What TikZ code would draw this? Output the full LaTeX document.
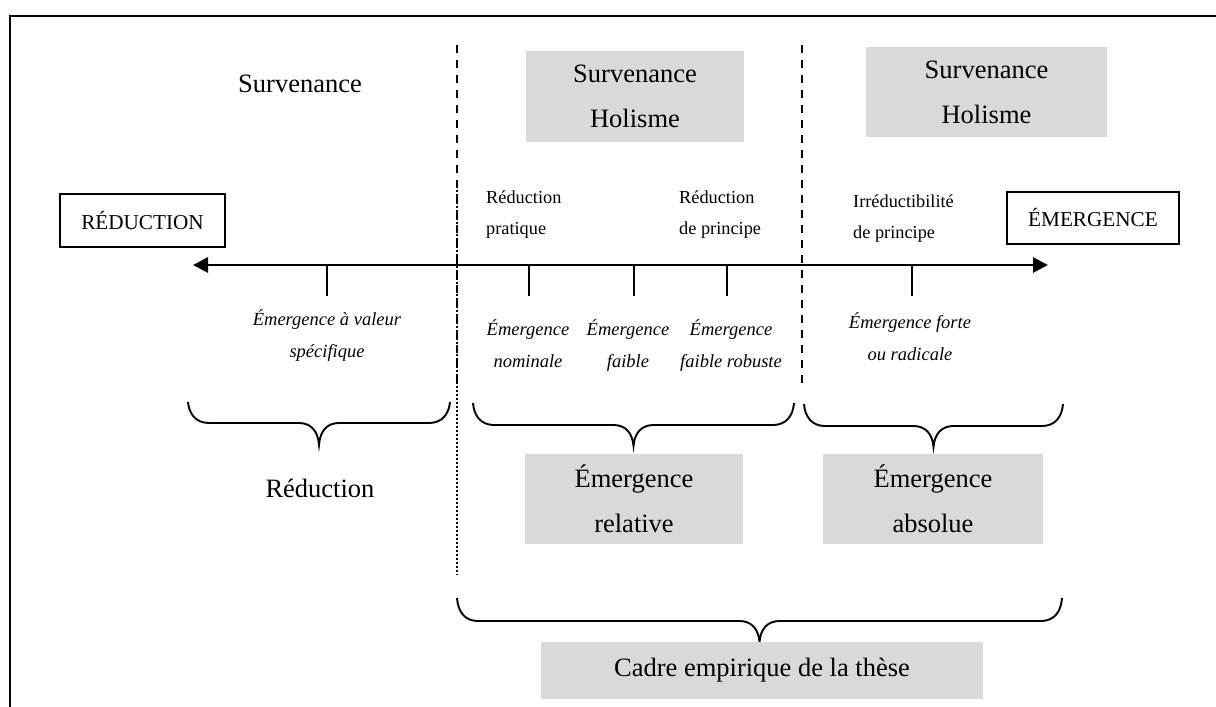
\documentclass[tikz,border=0pt]{standalone}
\usepackage{fontspec}
\setmainfont{Liberation Serif}
\usetikzlibrary{arrows.meta}
\definecolor{boxgray}{RGB}{217,217,217}
\newcommand{\wordbrace}[5]{% x0, x1, y0 (ends), y1 (bar), y2 (tip)
  \pgfmathsetmacro\bxm{(#1+#2)/2}
  \draw[bracestyle] (#1,#3) .. controls (#1+1,#4-9) and (#1+8,#4) .. (#1+21,#4)
    -- (\bxm-20,#4) .. controls (\bxm-8,#4) and (\bxm-1,#4+8) .. (\bxm,#5)
    .. controls (\bxm+1,#4+8) and (\bxm+8,#4) .. (\bxm+20,#4)
    -- (#2-21,#4) .. controls (#2-8,#4) and (#2-1,#4-9) .. (#2,#3);
}
\begin{document}
\begin{tikzpicture}[x=1pt,y=-1pt,
  big/.style={font=\fontsize{26.5}{45}\selectfont, inner sep=0pt},
  small/.style={font=\fontsize{18.3}{31}\selectfont, inner sep=0pt, align=left, anchor=base west},
  ital/.style={font=\fontsize{18.5}{31.5}\selectfont\itshape, inner sep=0pt, align=center, anchor=base},
  graybox/.style={fill=boxgray, inner sep=0pt, align=center, font=\fontsize{26.5}{45}\selectfont},
  endbox/.style={draw, line width=1.2pt, inner sep=0pt, font=\fontsize{21.2}{25}\selectfont},
  tickstyle/.style={line width=2.6pt},
  bracestyle/.style={line width=1.9pt},
  sepline/.style={line width=2.2pt, dash pattern=on 8pt off 7pt},
  dotline/.style={line width=2pt, dash pattern=on 2pt off 2pt}]
\useasboundingbox (0,0) rectangle (1216,707);
% frame
\coordinate (fbl) at (10,710);
\coordinate (ftl) at (10,16);
\coordinate (ftr) at (1220,16);
\draw[line width=2pt] (fbl) -- (ftl) -- (ftr);

% top labels
\node[big, anchor=base] (surv) at (300,92) {Survenance};
\node[graybox, minimum width=218pt, minimum height=91pt] (sh1) at (635,96.5) {Survenance\\Holisme};
\node[graybox, minimum width=241pt, minimum height=90pt] (sh2) at (986.5,92) {Survenance\\Holisme};

% end boxes
\node[endbox, minimum width=165pt, minimum height=53pt] (red) at (142.5,220.5) {RÉDUCTION};
\node[endbox, minimum width=172pt, minimum height=52pt] (em) at (1093,218) {ÉMERGENCE};

% separators
\coordinate (s1t) at (457,45);
\coordinate (s1m) at (457,390);
\coordinate (d1t) at (457,190);
\coordinate (d1b) at (457,575);
\coordinate (s2t) at (802,45);
\coordinate (s2b) at (802,387);
\draw[sepline] (s1t) -- (s1m);
\draw[dotline] (d1t) -- (d1b);
\draw[sepline] (s2t) -- (s2b);

% axis
\coordinate (al) at (193,265);
\coordinate (ar) at (1048,265);
\draw[line width=2.8pt, {Triangle[length=15pt,width=15pt]}-{Triangle[length=15pt,width=15pt]}] (al) -- (ar);
\foreach \x/\n in {327/a,529/b,634/c,727/d,912/e}{
  \coordinate (tt\n) at (\x,265);
  \coordinate (tb\n) at (\x,296);
  \draw[tickstyle] (tt\n) -- (tb\n);
}

% upper small labels (anchor = baseline of last line)
\node[small] (rp) at (486,234) {Réduction\\pratique};
\node[small] (rdp) at (679,234) {Réduction\\de principe};
\node[small] (idp) at (853,238) {Irréductibilité\\de principe};

% italic labels (anchor = baseline of last line)
\node[ital] (evs) at (327,357) {Émergence à valeur\\spécifique};
\node[ital] (en) at (528,367) {Émergence\\nominale};
\node[ital] (ef) at (628,367) {Émergence\\faible};
\node[ital] (efr) at (731,367) {Émergence\\faible robuste};
\node[ital] (efo) at (910,360) {Émergence forte\\ou radicale};

% braces
\wordbrace{188}{450}{402}{423}{445}
\wordbrace{473}{794}{403}{425}{446}
\wordbrace{804}{1063}{404}{426}{447}
\wordbrace{457}{1062}{598}{621}{642}

% lower labels
\node[big, anchor=base] (redl) at (320,497) {Réduction};
\node[graybox, minimum width=218pt, minimum height=90pt] (erel) at (634,499) {Émergence\\relative};
\node[graybox, minimum width=220pt, minimum height=90pt] (eabs) at (933,499) {Émergence\\absolue};
\node[graybox, minimum width=442pt, minimum height=57pt] (cadre) at (762,670.5) {Cadre empirique de la thèse};
\end{tikzpicture}
\end{document}
